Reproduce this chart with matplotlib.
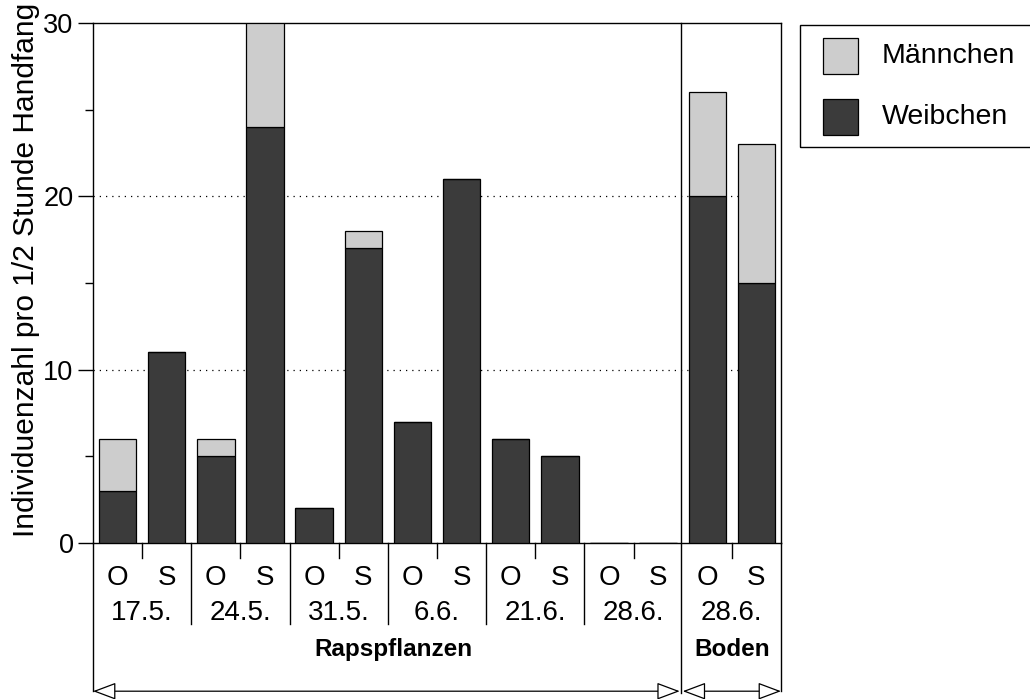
"""Stacked bar chart: Männchen / Weibchen per half-hour hand catch."""

import matplotlib
matplotlib.use("Agg")
import matplotlib.pyplot as plt
from matplotlib.patches import Rectangle
import matplotlib.transforms as mtransforms

plt.rcParams['font.family'] = ['Liberation Sans', 'DejaVu Sans']

# Data
sides = ["O", "S"] * 7
dates = ["17.5.", "24.5.", "31.5.", "6.6.", "21.6.", "28.6.", "28.6."]
weibchen = [3, 11, 5, 24, 2, 17, 7, 21, 6, 5, 0, 0, 20, 15]
maennchen = [3, 0, 1, 6, 0, 1, 0, 0, 0, 0, 0, 0, 6, 8]
sections = ["Rapspflanzen", "Boden"]

dark = "#3b3b3b"
light = "#cdcdcd"

fig = plt.figure(figsize=(10.30, 6.99), dpi=100)
ax = fig.add_axes([93 / 1030, 156 / 699, 688 / 1030, 520 / 699])

x = list(range(len(weibchen)))
ax.bar(x, weibchen, width=0.76, color=dark, edgecolor="black", linewidth=0.9, zorder=3)
ax.bar(x, maennchen, width=0.76, bottom=weibchen, color=light, edgecolor="black",
       linewidth=0.9, zorder=3)

ax.set_xlim(-0.5, 13.5)
ax.set_ylim(0, 30)
ax.set_yticks([0, 10, 20, 30])
ax.set_yticks([5, 15, 25], minor=True)
ax.tick_params(axis="y", which="major", length=11, width=1, labelsize=19.5, pad=3)
ax.tick_params(axis="y", which="minor", length=6, width=1)
ax.set_xticks([])
for s in ax.spines.values():
    s.set_linewidth(1)

# dotted grid lines
for yv in [10, 20]:
    ax.axhline(yv, color="black", linestyle=(0, (1, 4)), linewidth=0.9, zorder=1)

ax.set_ylabel("Individuenzahl pro 1/2 Stunde Handfang", fontsize=21.5)
ax.yaxis.set_label_coords(-0.077, 0.525)

trans = mtransforms.blended_transform_factory(ax.transData, ax.transAxes)

# divider between Rapspflanzen and Boden
ax.plot([11.46, 11.46], [1, -0.288], transform=trans, color="black", lw=1,
        clip_on=False, zorder=4)

# ticks and separators below the axis
for i in range(15):
    xb = i - 0.5
    if i in (0, 14):
        ax.plot([xb, xb], [0, -0.285], transform=trans, color="black", lw=1, clip_on=False)
    elif i == 12:
        continue
    elif i % 2 == 0:
        ax.plot([xb, xb], [0, -0.155], transform=trans, color="black", lw=1, clip_on=False)
    else:
        ax.plot([xb, xb], [0, -0.028], transform=trans, color="black", lw=1, clip_on=False)

for i, s in enumerate(sides):
    ax.text(i, -0.067, s, transform=trans, ha="center", va="center", fontsize=20)
for g, d in enumerate(dates):
    ax.text(2 * g + 0.5, -0.134, d, transform=trans, ha="center", va="center", fontsize=20)

ax.text(5.62, -0.205, sections[0], transform=trans, ha="center", va="center",
        fontsize=17.5, fontweight="bold")
ax.text(12.5, -0.205, sections[1], transform=trans, ha="center", va="center",
        fontsize=17.5, fontweight="bold")

arrow_style = "<|-|>,head_length=0.72,head_width=0.27"
for x0, x1 in [(-0.5, 11.44), (11.5, 13.5)]:
    ax.annotate("", xy=(x1, -0.285), xytext=(x0, -0.285), xycoords=trans, textcoords=trans,
                arrowprops=dict(arrowstyle=arrow_style, mutation_scale=20,
                                fc="white", ec="black", lw=0.9, shrinkA=0, shrinkB=0),
                annotation_clip=False)

# legend drawn by hand
def fx(px):
    return px / 1030


def fy(py):
    return 1 - py / 699


fig.patches.append(Rectangle((fx(800), fy(147)), fx(260), 122 / 699, transform=fig.transFigure,
                             fill=False, ec="black", lw=1))
for label, col, yc in [("Männchen", light, 56), ("Weibchen", dark, 117)]:
    fig.patches.append(Rectangle((fx(823), fy(yc + 18)), fx(35), 36 / 699,
                                 transform=fig.transFigure, fc=col, ec="black", lw=0.9))
    fig.text(fx(882), fy(yc), label, ha="left", va="center", fontsize=20.5)

fig.savefig("out.png", dpi=100)
